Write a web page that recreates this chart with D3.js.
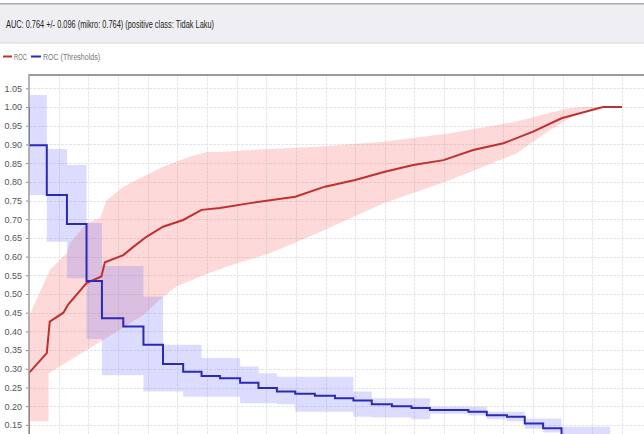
<!DOCTYPE html>
<html>
<head>
<meta charset="utf-8">
<script src="https://cdn.jsdelivr.net/npm/d3@7/dist/d3.min.js"></script>
<style>
html,body{margin:0;padding:0;background:#fff;}
svg{display:block;font-family:"Liberation Sans",Arial,sans-serif;}
</style>
</head>
<body>
<svg id="chart" width="644" height="434"></svg>
<script>
// ---------- data ----------
const titleText = "AUC: 0.764 +/- 0.096 (mikro: 0.764) (positive class: Tidak Laku)";
const seriesNames = ["ROC", "ROC (Thresholds)"];
const yTickValues = [0.15,0.20,0.25,0.30,0.35,0.40,0.45,0.50,0.55,0.60,0.65,0.70,0.75,0.80,0.85,0.90,0.95,1.00,1.05];
const xGridValues = [0.05,0.10,0.15,0.20,0.25,0.30,0.35,0.40,0.45,0.50,0.55,0.60,0.65,0.70,0.75,0.80,0.85,0.90,0.95,1.00,1.05];

// ROC mean curve (FPR, TPR)
const rocX = [0, 0, 0.030, 0.035, 0.058, 0.066, 0.097, 0.122, 0.128, 0.159, 0.176, 0.198, 0.226, 0.260, 0.291, 0.322, 0.373, 0.449, 0.499, 0.550, 0.600, 0.648, 0.699, 0.749, 0.800, 0.850, 0.898, 0.949, 0.968, 1.0];
const rocY = [0, 0.289, 0.342, 0.426, 0.450, 0.472, 0.529, 0.547, 0.585, 0.604, 0.626, 0.653, 0.680, 0.698, 0.725, 0.730, 0.743, 0.760, 0.787, 0.805, 0.827, 0.845, 0.858, 0.885, 0.903, 0.934, 0.970, 0.992, 1.0, 1.0];
// ROC band upper / lower edge
const rocUpX = [0, 0.035, 0.064, 0.069, 0.097, 0.120, 0.131, 0.159, 0.193, 0.226, 0.271, 0.300, 0.322, 0.373, 0.485, 0.597, 0.710, 0.822, 0.907, 0.934, 0.968];
const rocUpY = [0.440, 0.564, 0.610, 0.636, 0.690, 0.703, 0.751, 0.787, 0.814, 0.840, 0.867, 0.880, 0.880, 0.885, 0.894, 0.907, 0.930, 0.961, 0.996, 1.0, 1.0];
const rocLoX = [0, 0.033, 0.033, 0.069, 0.097, 0.125, 0.193, 0.226, 0.249, 0.294, 0.333, 0.378, 0.406, 0.485, 0.597, 0.710, 0.822, 0.878, 0.907, 0.934, 0.968];
const rocLoY = [0.160, 0.160, 0.288, 0.323, 0.350, 0.377, 0.444, 0.493, 0.520, 0.550, 0.573, 0.595, 0.609, 0.662, 0.742, 0.805, 0.876, 0.938, 0.965, 0.992, 1.0];

// Threshold curve (FPR, threshold) with band, step-wise
const thrStart = 1.0;
const thrX    = [0, 0.030, 0.064, 0.097, 0.123, 0.159, 0.193, 0.226, 0.260, 0.291, 0.322, 0.356, 0.387, 0.418, 0.449, 0.482, 0.516, 0.547, 0.578, 0.612, 0.645, 0.676, 0.741, 0.772, 0.806, 0.836, 0.867, 0.898, 0.980];
const thrMean = [0.898, 0.765, 0.687, 0.535, 0.435, 0.413, 0.364, 0.313, 0.292, 0.281, 0.275, 0.263, 0.249, 0.239, 0.233, 0.228, 0.221, 0.215, 0.205, 0.200, 0.195, 0.190, 0.185, 0.176, 0.172, 0.154, 0.141, 0.120, 0.100];
const thrLow  = [0.765, 0.640, 0.542, 0.380, 0.283, 0.283, 0.239, 0.239, 0.225, 0.225, 0.225, 0.208, 0.208, 0.205, 0.185, 0.185, 0.185, 0.172, 0.170, 0.170, 0.165, 0.180, 0.175, 0.165, 0.160, 0.140, 0.130, 0.100, 0.100];
const thrHigh = [1.032, 0.888, 0.845, 0.690, 0.575, 0.575, 0.493, 0.364, 0.364, 0.329, 0.329, 0.306, 0.288, 0.279, 0.279, 0.279, 0.279, 0.239, 0.221, 0.221, 0.221, 0.199, 0.199, 0.185, 0.185, 0.167, 0.167, 0.145, 0.145];

// ---------- drawing ----------
const W = 644, H = 434;
const svg = d3.select("#chart");
const plotLeft = 29, plotTop = 75;

const x = d3.scaleLinear().domain([0, 1]).range([plotLeft, 622]);
const y = d3.scaleLinear().domain([0, 1.0856]).range([481, plotTop]);

// header
svg.append("rect").attr("x",0).attr("y",3).attr("width",W).attr("height",41).attr("fill","#efeff3");
svg.append("rect").attr("x",0).attr("y",3).attr("width",W).attr("height",1.5).attr("fill","#a9a9ad");
svg.append("rect").attr("x",0).attr("y",42).attr("width",W).attr("height",1.5).attr("fill","#e2e2e6");
svg.append("text").attr("x",6).attr("y",28).attr("font-size",10).attr("fill","#222")
  .attr("textLength",208).attr("lengthAdjust","spacingAndGlyphs").text(titleText);

// legend
const legendColors = ["#c43030","#2a2ab4"];
const legendX = [[3,12,14,27],[31,41,43,100]];
seriesNames.forEach((n,i)=>{
  const [l0,l1,tx,te] = legendX[i];
  svg.append("line").attr("x1",l0).attr("x2",l1).attr("y1",56.5).attr("y2",56.5)
    .attr("stroke",legendColors[i]).attr("stroke-width",2);
  svg.append("text").attr("x",tx).attr("y",59.5).attr("font-size",8.5).attr("fill","#777")
    .attr("textLength",te-tx).attr("lengthAdjust","spacingAndGlyphs").text(n);
});

// clip
svg.append("clipPath").attr("id","plotclip").append("rect")
  .attr("x",plotLeft).attr("y",plotTop).attr("width",W-plotLeft).attr("height",H-plotTop);
const g = svg.append("g").attr("clip-path","url(#plotclip)");

// grid
g.selectAll(".hg").data(yTickValues).join("line")
  .attr("x1",plotLeft).attr("x2",W).attr("y1",d=>Math.round(y(d))+0.5).attr("y2",d=>Math.round(y(d))+0.5)
  .attr("stroke","#e6e6e6").attr("stroke-width",1).attr("stroke-dasharray","3,1");
g.selectAll(".vg").data(xGridValues).join("line")
  .attr("x1",d=>Math.round(x(d))+0.5).attr("x2",d=>Math.round(x(d))+0.5).attr("y1",plotTop).attr("y2",H)
  .attr("stroke","#e6e6e6").attr("stroke-width",1).attr("stroke-dasharray","3,1");

// ROC band polygon
const rocBand = rocUpX.map((v,i)=>[v,rocUpY[i]]).concat(rocLoX.map((v,i)=>[v,rocLoY[i]]).reverse());
g.append("path").datum(rocBand)
  .attr("d", d3.line().x(d=>x(d[0])).y(d=>y(d[1])).curve(d3.curveLinearClosed))
  .attr("fill","rgba(250,110,110,0.26)");

// Threshold band
const thrData = thrX.map((v,i)=>({x:v,m:thrMean[i],lo:thrLow[i],hi:thrHigh[i]}));
g.append("path").datum(thrData)
  .attr("d", d3.area().x(d=>x(d.x)).y0(d=>y(d.lo)).y1(d=>y(d.hi)).curve(d3.curveStepAfter))
  .attr("fill","rgba(110,110,250,0.24)");

// ROC line
g.append("path").datum(rocX.map((v,i)=>[v,rocY[i]]))
  .attr("d", d3.line().x(d=>x(d[0])).y(d=>y(d[1])))
  .attr("fill","none").attr("stroke","#c03030").attr("stroke-width",2);

// Threshold line
const thrLine = [{x:thrX[0], m:thrStart}].concat(thrData);
g.append("path").datum(thrLine)
  .attr("d", d3.line().x(d=>x(d.x)).y(d=>y(d.m)).curve(d3.curveStepAfter))
  .attr("fill","none").attr("stroke","#2a2ab4").attr("stroke-width",2);

// frame
svg.append("line").attr("x1",plotLeft).attr("x2",W).attr("y1",plotTop).attr("y2",plotTop)
  .attr("stroke","#9a9a9a").attr("stroke-width",2);
svg.append("line").attr("x1",plotLeft).attr("x2",plotLeft).attr("y1",plotTop-1).attr("y2",H)
  .attr("stroke","#9a9a9a").attr("stroke-width",1.5);

// y axis labels
const yAxis = d3.axisLeft(y).tickValues(yTickValues).tickFormat(d3.format(".2f")).tickSize(2).tickPadding(4);
const ya = svg.append("g").attr("transform",`translate(${plotLeft-1},0)`).call(yAxis);
ya.select(".domain").remove();
ya.selectAll("line").attr("stroke","#888");
ya.selectAll("text").attr("font-size",9).attr("fill","#555").attr("font-family","'Liberation Sans Narrow','Liberation Sans',sans-serif");
</script>
</body>
</html>
